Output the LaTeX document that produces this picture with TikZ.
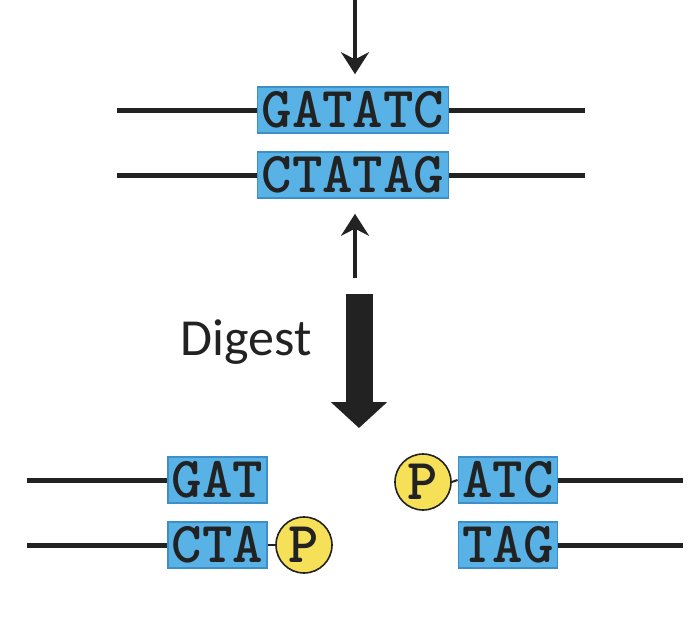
\documentclass[tikz,border=0pt]{standalone}
\definecolor{seqblue}{RGB}{88,178,230}
\definecolor{seqedge}{RGB}{62,142,200}
\definecolor{phosyellow}{RGB}{246,224,88}
\definecolor{inkdark}{RGB}{34,34,34}
\usepackage{xcolor}
\usepackage{fontspec}
\newfontfamily\labelfont{Carlito}
\usepackage{tikz}
\usetikzlibrary{arrows.meta, positioning}

\begin{document}
\begin{tikzpicture}[x=0.5pt, y=-0.5pt,
    seq/.style={draw=seqedge, fill=seqblue, line width=0.8pt, inner xsep=2pt, inner ysep=0pt,
                minimum height=23pt, font=\ttfamily\bfseries\fontsize{29}{29}\selectfont, text=inkdark},
    phos/.style={circle, draw=inkdark, fill=phosyellow, line width=0.8pt, minimum size=28pt, inner sep=0pt,
                 font=\ttfamily\bfseries\fontsize{29}{29}\selectfont, text=inkdark},
    strand/.style={draw=inkdark, line width=2.5pt},
    link/.style={draw=inkdark, line width=1pt},
    cut/.style={draw=inkdark, line width=1.6pt, -{Stealth[width=14pt, length=11pt]}}]
  \useasboundingbox (0,0) rectangle (698,622);

  % uncut site
  \node[seq] (gatatc) at (353,110) {GATATC};
  \node[seq] (ctatag) at (353,175) {CTATAG};
  \coordinate (t1l) at (117,110);
  \coordinate (t1r) at (585,110);
  \coordinate (t2l) at (117,175);
  \coordinate (t2r) at (585,175);
  \draw[strand] (t1l) -- (gatatc.west);
  \draw[strand] (gatatc.east) -- (t1r);
  \draw[strand] (t2l) -- (ctatag.west);
  \draw[strand] (ctatag.east) -- (t2r);

  % cut positions
  \coordinate (cuttop) at (355,0);
  \coordinate (cutbot) at (355,278);
  \draw[cut, shorten >=6pt] (cuttop) -- (gatatc.north -| cuttop);
  \draw[cut, shorten >=7.5pt] (cutbot) -- (ctatag.south -| cutbot);

  % digest step
  \coordinate (digtop) at (359,294);
  \coordinate (digend) at (359,428);
  \draw[draw=inkdark, line width=13.5pt, -{Triangle[width=27.5pt, length=13pt]}] (digtop) -- (digend);
  \node[anchor=base west, inner sep=0pt, font=\labelfont\fontsize{26}{26}\selectfont, text=inkdark] (digest) at (180,355) {Digest};

  % left fragment
  \node[seq] (gat) at (217.5,480) {GAT};
  \node[seq] (cta) at (217.5,545) {CTA};
  \node[phos] (pleft) at (304,545) {P};
  \coordinate (l1) at (27,480);
  \coordinate (l2) at (27,545);
  \draw[strand] (l1) -- (gat.west);
  \draw[strand] (l2) -- (cta.west);
  \draw[link] (cta.east) -- (pleft.west);

  % right fragment
  \node[seq] (atc) at (508,480) {ATC};
  \node[seq] (tag) at (508,545) {TAG};
  \node[phos] (pright) at (423,482) {P};
  \coordinate (r1) at (683,480);
  \coordinate (r2) at (683,545);
  \draw[strand] (atc.east) -- (r1);
  \draw[strand] (tag.east) -- (r2);
  \draw[link] (pright.east) -- (atc.west);
\end{tikzpicture}
\end{document}
